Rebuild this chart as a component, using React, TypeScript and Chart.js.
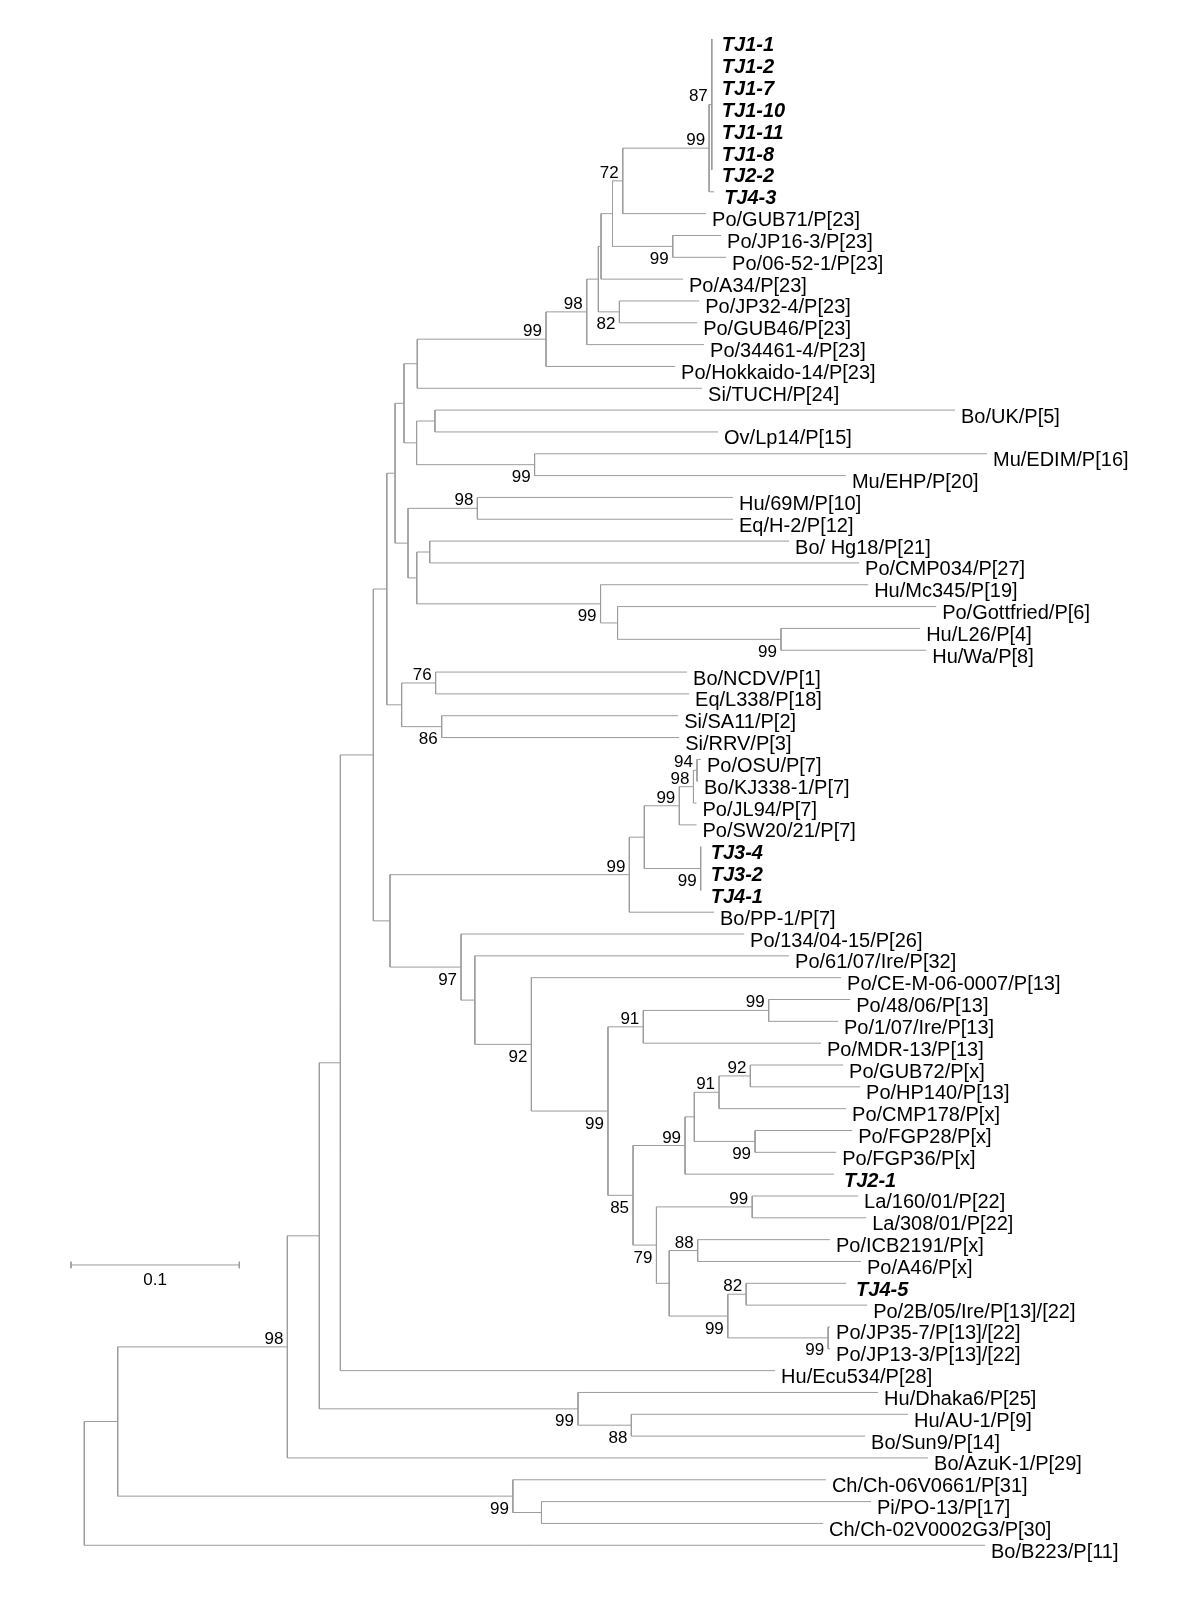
import React, { useEffect, useRef } from "react";
import { Chart, registerables } from "chart.js";

Chart.register(...registerables);

// ---------------- DATA ----------------
// Tree topology with branch lengths (substitutions/site) and bootstrap values, as Newick clades.
const CLADE_TJ1 = `('TJ1-1':0,'TJ1-2':0,'TJ1-7':0,'TJ1-10':0,'TJ1-11':0,'TJ1-8':0,'TJ2-2':0)87`;
const CLADE_P23 = `(((((((${CLADE_TJ1}:0.0016,'TJ4-3':0.0030)99:0.0513,'Po/GUB71/P[23]':0.0495)72:0.0061,('Po/JP16-3/P[23]':0.0287,'Po/06-52-1/P[23]':0.0317)99:0.0358):0.0068,'Po/A34/P[23]':0.0487):0.0016,('Po/JP32-4/P[23]':0.0474,'Po/GUB46/P[23]':0.0462)82:0.0125):0.0069,'Po/34461-4/P[23]':0.0697)98:0.0242,'Po/Hokkaido-14/P[23]':0.0767)99`;
const CLADE_TUCH = `(${CLADE_P23}:0.0765,'Si/TUCH/P[24]':0.1692)`;
const CLADE_UK_EDIM = `(('Bo/UK/P[5]':0.3090,'Ov/Lp14/P[15]':0.1682):0.0109,('Mu/EDIM/P[16]':0.2688,'Mu/EHP/P[20]':0.1850)99:0.0701)`;
const CLADE_UPPER = `(${CLADE_TUCH}:0.0079,${CLADE_UK_EDIM}:0.0075)`;
const CLADE_HU = `(('Hu/69M/P[10]':0.1519,'Eq/H-2/P[12]':0.1519)98:0.0412,(('Bo/ Hg18/P[21]':0.2135,'Po/CMP034/P[27]':0.2551):0.0077,('Hu/Mc345/P[19]':0.1590,('Po/Gottfried/P[6]':0.1893,('Hu/L26/P[4]':0.0827,'Hu/Wa/P[8]':0.0863)99:0.0971):0.0101)99:0.1092):0.0052)`;
const CLADE_MID = `(${CLADE_UPPER}:0.0053,${CLADE_HU}:0.0077)`;
const CLADE_P1_P3 = `(('Bo/NCDV/P[1]':0.1494,'Eq/L338/P[18]':0.1506)76:0.0202,('Si/SA11/P[2]':0.1405,'Si/RRV/P[3]':0.1411)86:0.0238)`;
const CLADE_A = `(${CLADE_MID}:0.0049,${CLADE_P1_P3}:0.0088)`;
const CLADE_P7 = `((((('Po/OSU/P[7]':0.0024,'Bo/KJ338-1/P[7]':0.0006)94:0.0021,'Po/JL94/P[7]':0.0018)98:0.0084,'Po/SW20/21/P[7]':0.0102)99:0.0208,('TJ3-4':0,'TJ3-2':0,'TJ4-1':0)99:0.0335):0.0089,'Bo/PP-1/P[7]':0.0503)99`;
const CLADE_PX = `(((('Po/GUB72/P[x]':0.0551,'Po/HP140/P[13]':0.0652)92:0.0186,'Po/CMP178/P[x]':0.0755)91:0.0147,('Po/FGP28/P[x]':0.0577,'Po/FGP36/P[x]':0.0482)99:0.0361):0.0055,'TJ2-1':0.0885)99`;
const CLADE_P22 = `(('La/160/01/P[22]':0.0629,'La/308/01/P[22]':0.0677)99:0.0569,(('Po/ICB2191/P[x]':0.0786,'Po/A46/P[x]':0.0970)88:0.0169,(('TJ4-5':0.0594,'Po/2B/05/Ire/P[13]/[22]':0.0719)82:0.0109,('Po/JP35-7/P[13]/[22]':0.0012,'Po/JP13-3/P[13]/[22]':0.0012)99:0.0596)99:0.0348):0.0076)79`;
const CLADE_85 = `(${CLADE_PX}:0.0309,${CLADE_P22}:0.0139)85`;
const CLADE_P13 = `(('Po/48/06/P[13]':0.0484,'Po/1/07/Ire/P[13]':0.0412)99:0.0745,'Po/MDR-13/P[13]':0.1056)91`;
const CLADE_97 = `('Po/134/04-15/P[26]':0.1682,('Po/61/07/Ire/P[32]':0.1867,('Po/CE-M-06-0007/P[13]':0.1840,(${CLADE_P13}:0.0210,${CLADE_85}:0.0149)99:0.0455)92:0.0336):0.0082)97`;
const CLADE_B = `(${CLADE_P7}:0.1422,${CLADE_97}:0.0422)`;
const CLADE_AB = `(${CLADE_A}:0.0080,${CLADE_B}:0.0099)`;
const CLADE_ECU = `(${CLADE_AB}:0.0196,'Hu/Ecu534/P[28]':0.2583)`;
const CLADE_DHAKA = `('Hu/Dhaka6/P[25]':0.1783,('Hu/AU-1/P[9]':0.1644,'Bo/Sun9/P[14]':0.1389)88:0.0317)99`;
const CLADE_MAIN = `((${CLADE_ECU}:0.0125,${CLADE_DHAKA}:0.1537):0.0190,'Bo/AzuK-1/P[29]':0.3807)98`;
const CLADE_CH = `('Ch/Ch-06V0661/P[31]':0.1860,('Pi/PO-13/P[17]':0.1958,'Ch/Ch-02V0002G3/P[30]':0.1673):0.0170)99`;
const TREE_NEWICK = `((${CLADE_MAIN}:0.1008,${CLADE_CH}:0.2348):0.01985,'Bo/B223/P[11]':0.5352);`;

// Study strains shown in bold italic
const BOLD_TAXA = ["TJ1-1", "TJ1-2", "TJ1-7", "TJ1-10", "TJ1-11", "TJ1-8", "TJ2-2", "TJ4-3", "TJ3-4", "TJ3-2", "TJ4-1", "TJ2-1", "TJ4-5"];

// Scale bar
const SCALE_BAR_LENGTH = 0.1;
const SCALE_BAR_LABEL = "0.1";
const SCALE_BAR_START = -0.0079; // genetic distance where the bar starts
const SCALE_BAR_ROW = 57.16; // vertical position in leaf-row units

// Visible window of the axes (distance from root; leaf rows)
const X_RANGE = [-0.05009, 0.66293];
const Y_RANGE = [-0.7865, 72.5073];

// ---------------- STYLE ----------------
const LINE_COLOR = "#9c9c9c";
const FONT_FAMILY = '"Liberation Sans", Arial, Helvetica, sans-serif';

type TNode = {
  name: string;
  length: number;
  support: string;
  children: TNode[];
  depth: number;
  y: number;
  parent: TNode | null;
};

function parseNewick(s: string): TNode {
  let i = 0;
  const skipWs = () => {
    while (i < s.length && /\s/.test(s[i])) i++;
  };
  const readLabel = (): string => {
    skipWs();
    if (s[i] === "'") {
      i++;
      let out = "";
      while (i < s.length && s[i] !== "'") out += s[i++];
      i++;
      return out;
    }
    let out = "";
    while (i < s.length && !/[(),:;]/.test(s[i])) out += s[i++];
    return out.trim();
  };
  const parseNode = (parent: TNode | null): TNode => {
    skipWs();
    const node: TNode = { name: "", length: 0, support: "", children: [], depth: 0, y: 0, parent };
    if (s[i] === "(") {
      i++;
      for (;;) {
        node.children.push(parseNode(node));
        skipWs();
        if (s[i] === ",") {
          i++;
          continue;
        }
        if (s[i] === ")") {
          i++;
          break;
        }
        throw new Error("Bad Newick at " + i);
      }
      node.support = readLabel();
    } else {
      node.name = readLabel();
    }
    skipWs();
    if (s[i] === ":") {
      i++;
      skipWs();
      let num = "";
      while (i < s.length && /[0-9.eE+-]/.test(s[i])) num += s[i++];
      node.length = parseFloat(num);
    }
    return node;
  };
  return parseNode(null);
}

function layoutTree(root: TNode) {
  const leaves: TNode[] = [];
  const internals: TNode[] = [];
  let row = 0;
  const walk = (n: TNode, parentDepth: number) => {
    n.depth = parentDepth + (n.parent ? n.length : 0);
    if (n.children.length === 0) {
      row += 1;
      n.y = row;
      leaves.push(n);
    } else {
      n.children.forEach((c) => walk(c, n.depth));
      n.y = (n.children[0].y + n.children[n.children.length - 1].y) / 2;
      internals.push(n);
    }
  };
  walk(root, 0);
  const segments: number[][] = [];
  internals.forEach((n) => {
    const first = n.children[0];
    const last = n.children[n.children.length - 1];
    segments.push([n.depth, first.y, n.depth, last.y]);
    n.children.forEach((c) => segments.push([n.depth, c.y, c.depth, c.y]));
  });
  return { leaves, internals, segments };
}

export default function App() {
  const ref = useRef<HTMLCanvasElement>(null);

  useEffect(() => {
    const canvas = ref.current;
    if (!canvas) return;
    const root = parseNewick(TREE_NEWICK);
    const { leaves, internals, segments } = layoutTree(root);

    const lineDs = (pts: { x: number; y: number }[]) => ({
      data: pts,
      showLine: true,
      borderColor: LINE_COLOR,
      backgroundColor: LINE_COLOR,
      borderWidth: 1,
      pointRadius: 0,
      pointHoverRadius: 0,
      fill: false,
      tension: 0,
    });

    const datasets: any[] = segments.map((s) =>
      lineDs([
        { x: s[0], y: s[1] },
        { x: s[2], y: s[3] },
      ])
    );
    const sbEnd = SCALE_BAR_START + SCALE_BAR_LENGTH;
    datasets.push(lineDs([{ x: SCALE_BAR_START, y: SCALE_BAR_ROW }, { x: sbEnd, y: SCALE_BAR_ROW }]));
    datasets.push(lineDs([{ x: SCALE_BAR_START, y: SCALE_BAR_ROW - 0.15 }, { x: SCALE_BAR_START, y: SCALE_BAR_ROW + 0.15 }]));
    datasets.push(lineDs([{ x: sbEnd, y: SCALE_BAR_ROW - 0.15 }, { x: sbEnd, y: SCALE_BAR_ROW + 0.15 }]));

    const labelPlugin = {
      id: "treeLabels",
      afterDatasetsDraw(chart: any) {
        const ctx: CanvasRenderingContext2D = chart.ctx;
        const xs = chart.scales.x;
        const ys = chart.scales.y;
        ctx.save();
        ctx.fillStyle = "#000";
        ctx.textBaseline = "alphabetic";
        // leaf names
        ctx.textAlign = "left";
        leaves.forEach((lf) => {
          const bold = BOLD_TAXA.includes(lf.name);
          ctx.font = bold ? `italic bold 20px ${FONT_FAMILY}` : `20px ${FONT_FAMILY}`;
          const px = xs.getPixelForValue(lf.depth) + (bold ? 10 : 6);
          const py = ys.getPixelForValue(lf.y) + 12.5;
          ctx.fillText(lf.name, px, py);
        });
        // bootstrap values
        ctx.font = `17px ${FONT_FAMILY}`;
        ctx.textAlign = "right";
        internals.forEach((n) => {
          if (!n.support || !n.parent) return;
          const isFirst = n.parent.children[0] === n;
          const px = xs.getPixelForValue(n.depth) - 4;
          const py = ys.getPixelForValue(n.y) + (isFirst ? -3 : 17.5);
          ctx.fillText(n.support, px, py);
        });
        // scale bar label
        ctx.textAlign = "center";
        ctx.font = `17px ${FONT_FAMILY}`;
        const cx = xs.getPixelForValue(SCALE_BAR_START + SCALE_BAR_LENGTH / 2);
        const cy = ys.getPixelForValue(SCALE_BAR_ROW) + 20;
        ctx.fillText(SCALE_BAR_LABEL, cx, cy);
        ctx.restore();
      },
    };

    const chart = new Chart(canvas, {
      type: "scatter",
      data: { datasets },
      options: {
        responsive: false,
        maintainAspectRatio: false,
        devicePixelRatio: 1,
        animation: false,
        events: [],
        layout: { padding: 0 },
        plugins: { legend: { display: false }, tooltip: { enabled: false }, title: { display: false } },
        scales: {
          x: { type: "linear", min: X_RANGE[0], max: X_RANGE[1], display: false, grid: { display: false } },
          y: { type: "linear", min: Y_RANGE[0], max: Y_RANGE[1], reverse: true, display: false, grid: { display: false } },
        },
      } as any,
      plugins: [labelPlugin],
    });
    return () => chart.destroy();
  }, []);

  return (
    <div style={{ position: "absolute", left: 0, top: 0, width: 1200, height: 1600, background: "#fff" }}>
      <canvas ref={ref} width={1200} height={1600} style={{ display: "block", width: 1200, height: 1600 }} />
    </div>
  );
}
